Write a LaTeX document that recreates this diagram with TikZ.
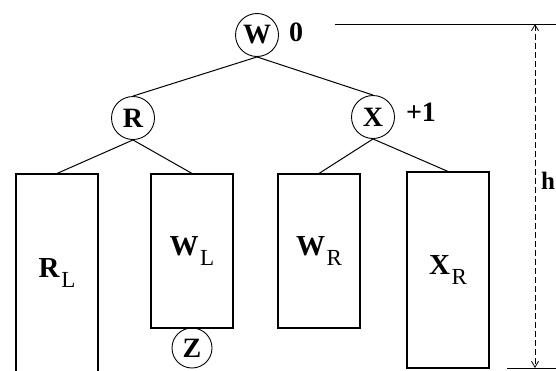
\documentclass[tikz,border=0pt]{standalone}
\usepackage{fontspec}
\setmainfont{Liberation Serif}
\usetikzlibrary{arrows.meta}
\newcommand{\sublbl}[2]{\textbf{#1}\hspace{1.5pt}\raisebox{-10pt}{\fontsize{23}{23}\selectfont #2}}
\begin{document}
\begin{tikzpicture}[x=1pt,y=-1pt,
  vertex/.style={draw, circle, line width=0.9pt, minimum size=43pt, inner sep=0pt, font=\fontsize{28}{28}\selectfont\bfseries},
  subtree/.style={draw, rectangle, line width=1.1pt, minimum width=82pt, inner sep=0pt, font=\fontsize{29}{29}\selectfont},
  bal/.style={font=\fontsize{28}{28}\selectfont\bfseries},
  edge/.style={line width=1pt}]

\useasboundingbox (0,0) rectangle (556,370);
\clip (0,0) rectangle (556,370);

\node[vertex] (w) at (257,35) {W};
\node[bal] (wbal) at (296,32) {0};
\node[vertex] (r) at (133,118) {R};
\node[vertex] (x) at (373,117) {X};
\node[bal] (xbal) at (421,112) {+1};

\node[subtree, minimum height=198pt] (rl) at (57,273) {\sublbl{R}{L}};
\node[subtree, minimum height=154pt] (wl) at (192,251) {\sublbl{W}{L}};
\node[subtree, minimum height=154pt] (wr) at (319,251) {\sublbl{W}{R}};
\node[subtree, minimum height=196pt] (xr) at (448,270) {\sublbl{X}{R}};
\node[vertex, minimum size=40pt] (z) at (192,348) {Z};

\draw[edge] (w.south) -- (r.north);
\draw[edge] (w.south) -- (x.north);
\draw[edge] (r.south) -- (rl.north);
\draw[edge] (r.south) -- (wl.north);
\draw[edge] (x.south) -- (wr.north);
\draw[edge] (x.south) -- (xr.north);

% height of the tree
\coordinate (htop) at (535,24);
\coordinate (hbot) at (535,368);
\draw[edge] (335,24) -- (556,24);
\draw[edge] (507,368) -- (556,368);
\draw[line width=0.8pt, dash pattern=on 6pt off 3pt, {Straight Barb[length=6pt,width=7pt]}-{Straight Barb[length=6pt,width=7pt]}] (htop) -- (hbot);
\node[bal, anchor=west, inner sep=0pt, font=\fontsize{25}{25}\selectfont\bfseries] (h) at (541,181) {h};
\end{tikzpicture}
\end{document}
